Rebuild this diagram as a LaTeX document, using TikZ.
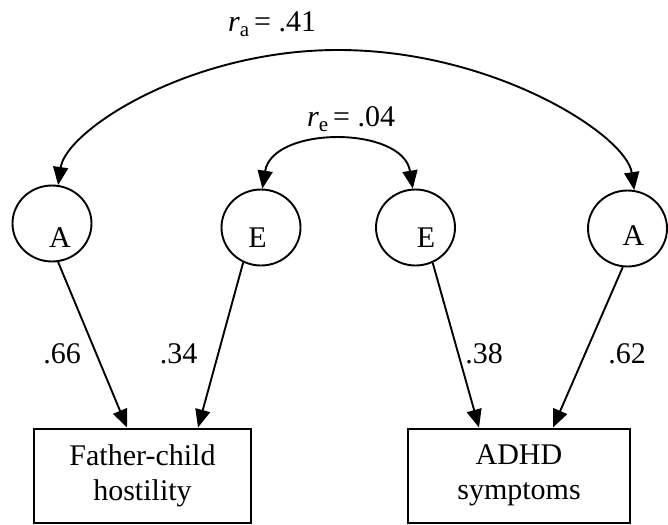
\documentclass[tikz,border=0pt]{standalone}
\usepackage{fontspec}
\setmainfont{Liberation Serif}
\usetikzlibrary{shapes.geometric,arrows.meta}
\begin{document}
\begin{tikzpicture}[x=1pt,y=-1pt,
  font=\fontsize{30}{35}\selectfont,
  latent/.style={draw, ellipse, line width=1.9pt, inner sep=0pt, minimum width=79pt, minimum height=76pt},
  obs/.style={draw, rectangle, line width=2pt, inner sep=0pt, align=center},
  conn/.style={line width=1.9pt, -{Triangle[length=18pt,width=15pt]}},
  dconn/.style={line width=1.9pt, {Triangle[length=18pt,width=15pt]}-{Triangle[length=18pt,width=15pt]}},
  txt/.style={anchor=base, inner sep=0pt}
]
\useasboundingbox (0,0) rectangle (668,524);

% latent variables
\node[latent] (a1) at (52,223.5) {};
\node[latent] (e1) at (261,227.5) {};
\node[latent] (e2) at (415.5,227.5) {};
\node[latent] (a2) at (627.5,228.5) {};
\node[txt] (ta1) at (60,247) {A};
\node[txt] (te1) at (257.5,247) {E};
\node[txt] (te2) at (426,247) {E};
\node[txt] (ta2) at (633.5,245) {A};

% observed variables
\node[obs, minimum width=217pt, minimum height=94.5pt] (b1) at (142.5,475.75) {Father-child\\hostility};
\node[obs, minimum width=222pt, minimum height=94.5pt] (b2) at (519,475.75) {ADHD\\symptoms};

% paths
\draw[conn] (a1.-81) -- ([xshift=-15.5pt]b1.north);
\draw[conn] (e1.-117.5) -- ([xshift=55.5pt]b1.north);
\draw[conn] (e2.-64) -- ([xshift=-40pt]b2.north);
\draw[conn] (a2.-97) -- ([xshift=34pt]b2.north);

% path labels
\node[txt] (l66) at (62,363) {.66};
\node[txt] (l34) at (178.5,363) {.34};
\node[txt] (l38) at (484,363) {.38};
\node[txt] (l62) at (627,363) {.62};

% correlations
\coordinate (peak) at (338,50);
\draw[dconn] (a1.81) .. controls +(8,-55) and (190,50) .. (peak)
             .. controls (494,50) and +(-8,-55) .. (a2.80);
\draw[dconn] (e1.88) .. controls +(10,-63) and +(-10,-63) .. (e2.94);

\node[txt] (ra) at (272,32) {\itshape r\/\upshape\raisebox{-5pt}{\fontsize{21}{21}\selectfont a}\,= .41};
\node[txt] (re) at (351,126) {\itshape r\/\upshape\raisebox{-5.5pt}{\fontsize{21}{21}\selectfont e}\,= .04};
\end{tikzpicture}
\end{document}
